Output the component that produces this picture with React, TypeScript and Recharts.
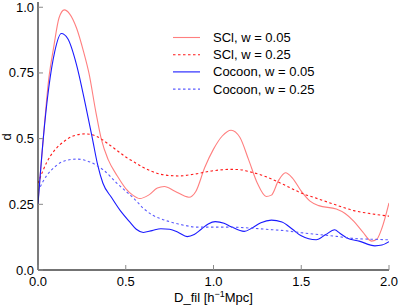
import React from 'react';
import { LineChart, Line, XAxis, YAxis } from 'recharts';

const FONT = '"Liberation Sans", Arial, Helvetica, sans-serif';

const xTicks = [0, 0.5, 1.0, 1.5, 2.0];
const yTicks = [0, 0.25, 0.5, 0.75, 1.0];
const xTickLabels = ['0.0', '0.5', '1.0', '1.5', '2.0'];
const yTickLabels = ['0.0', '0.25', '0.5', '0.75', '1.0'];

// SCl, w = 0.05
const sclNarrowX = [0, 0.03, 0.06, 0.09, 0.12, 0.15, 0.18, 0.22, 0.26, 0.29, 0.33, 0.36, 0.4, 0.45, 0.5, 0.54, 0.58, 0.63, 0.68, 0.72, 0.78, 0.86, 0.9, 0.95, 1.0, 1.05, 1.1, 1.15, 1.2, 1.25, 1.3, 1.33, 1.37, 1.41, 1.45, 1.5, 1.55, 1.6, 1.7, 1.75, 1.8, 1.85, 1.9, 1.93, 1.96, 2.0];
const sclNarrowY = [0.26, 0.5, 0.72, 0.85, 0.96, 0.99, 0.975, 0.92, 0.83, 0.75, 0.6, 0.5, 0.42, 0.36, 0.31, 0.285, 0.272, 0.285, 0.312, 0.318, 0.3, 0.277, 0.3, 0.39, 0.46, 0.51, 0.532, 0.505, 0.42, 0.33, 0.28, 0.285, 0.34, 0.37, 0.35, 0.3, 0.262, 0.245, 0.232, 0.215, 0.185, 0.145, 0.11, 0.117, 0.16, 0.255];

// SCl, w = 0.25
const sclWideX = [0, 0.05, 0.1, 0.15, 0.2, 0.27, 0.33, 0.4, 0.45, 0.5, 0.55, 0.6, 0.65, 0.7, 0.8, 0.9, 1.0, 1.1, 1.15, 1.2, 1.3, 1.4, 1.5, 1.6, 1.7, 1.8, 1.9, 2.0];
const sclWideY = [0.33, 0.41, 0.46, 0.49, 0.51, 0.518, 0.51, 0.48, 0.455, 0.43, 0.41, 0.39, 0.375, 0.364, 0.358, 0.366, 0.378, 0.383, 0.382, 0.375, 0.355, 0.325, 0.293, 0.27, 0.247, 0.226, 0.214, 0.205];

// Cocoon, w = 0.05
const cocNarrowX = [0, 0.03, 0.095, 0.133, 0.17, 0.22, 0.27, 0.31, 0.34, 0.37, 0.42, 0.47, 0.52, 0.56, 0.6, 0.65, 0.7, 0.75, 0.8, 0.85, 0.89, 0.93, 0.97, 1.01, 1.06, 1.1, 1.175, 1.22, 1.27, 1.33, 1.39, 1.45, 1.5, 1.585, 1.64, 1.69, 1.72, 1.76, 1.83, 1.92, 1.96, 2.0];
const cocNarrowY = [0.25, 0.5, 0.83, 0.9, 0.88, 0.78, 0.63, 0.5, 0.4, 0.33, 0.275, 0.225, 0.185, 0.155, 0.143, 0.15, 0.157, 0.155, 0.143, 0.127, 0.135, 0.155, 0.175, 0.184, 0.178, 0.165, 0.147, 0.16, 0.18, 0.19, 0.183, 0.155, 0.13, 0.115, 0.135, 0.153, 0.14, 0.122, 0.11, 0.092, 0.095, 0.108];

// Cocoon, w = 0.25
const cocWideX = [0, 0.05, 0.1, 0.15, 0.22, 0.3, 0.37, 0.45, 0.5, 0.55, 0.6, 0.65, 0.7, 0.8, 0.85, 0.9, 1.0, 1.1, 1.2, 1.3, 1.4, 1.5, 1.6, 1.7, 1.8, 1.9, 2.0];
const cocWideY = [0.3, 0.36, 0.395, 0.415, 0.422, 0.41, 0.382, 0.33, 0.3, 0.27, 0.235, 0.21, 0.195, 0.175, 0.168, 0.163, 0.163, 0.163, 0.16, 0.155, 0.15, 0.142, 0.135, 0.128, 0.12, 0.117, 0.115];

const seriesNames = ['SCl, w = 0.05', 'SCl, w = 0.25', 'Cocoon, w = 0.05', 'Cocoon, w = 0.25'];

const toPoints = (xs: number[], ys: number[]) => xs.map((x, i) => ({ x, y: ys[i] }));

const series = [
  { name: seriesNames[0], data: toPoints(sclNarrowX, sclNarrowY), color: '#ff7f7f', dash: undefined },
  { name: seriesNames[1], data: toPoints(sclWideX, sclWideY), color: '#ff1a1a', dash: '2.5 2.5' },
  { name: seriesNames[2], data: toPoints(cocNarrowX, cocNarrowY), color: '#1a1aff', dash: undefined },
  { name: seriesNames[3], data: toPoints(cocWideX, cocWideY), color: '#5c5cff', dash: '2.5 2.5' },
];

const TICK = '#8a8a8a';

function LeftTick({ x, y, index }: any) {
  return (
    <g>
      <line x1={x} x2={x + 5} y1={y} y2={y} stroke={TICK} />
      <text x={x - 4} y={y + 4.5} textAnchor="end" fontSize={13} fontFamily={FONT} fill="#000">{yTickLabels[index]}</text>
    </g>
  );
}

function BottomTick({ x, y, index }: any) {
  return (
    <g>
      <line x1={x} x2={x} y1={y} y2={y - 5} stroke={TICK} />
      <text x={x} y={y + 16} textAnchor="middle" fontSize={13} fontFamily={FONT} fill="#000">{xTickLabels[index]}</text>
    </g>
  );
}

function TopTick({ x, y }: any) {
  return <line x1={x} x2={x} y1={y} y2={y + 5} stroke={TICK} />;
}

function RightTick({ x, y }: any) {
  return <line x1={x} x2={x - 5} y1={y} y2={y} stroke={TICK} />;
}

export default function App() {
  return (
    <div style={{ position: 'absolute', left: 0, top: 0, width: 399, height: 307, background: '#fff' }}>
      <LineChart width={399} height={307} margin={{ top: 2, right: 10, bottom: 0, left: 0 }}>
        <XAxis xAxisId="b" dataKey="x" type="number" domain={[0, 2]} ticks={xTicks} interval={0}
          height={37} tickSize={0} tickMargin={0} tick={<BottomTick />} axisLine={{ stroke: '#444', strokeWidth: 1.3 }} allowDataOverflow />
        <XAxis xAxisId="t" orientation="top" dataKey="x" type="number" domain={[0, 2]} ticks={xTicks} interval={0}
          height={0} tickSize={0} tickMargin={0} tick={<TopTick />} axisLine={{ stroke: '#777' }} />
        <YAxis yAxisId="l" type="number" domain={[0, 1.02]} ticks={yTicks} interval={0}
          width={38} tickSize={0} tickMargin={0} tick={<LeftTick />} axisLine={{ stroke: '#333', strokeWidth: 1.3 }} allowDataOverflow />
        <YAxis yAxisId="r" orientation="right" type="number" domain={[0, 1.02]} ticks={yTicks} interval={0}
          width={0} tickSize={0} tickMargin={0} tick={<RightTick />} axisLine={{ stroke: '#777' }} />
        {series.map((s) => (
          <Line key={s.name} xAxisId="b" yAxisId="l" data={s.data} dataKey="y" type="monotone"
            stroke={s.color} strokeWidth={1.1} strokeDasharray={s.dash} dot={false} activeDot={false} isAnimationActive={false} />
        ))}
      </LineChart>
      <svg width={399} height={307} style={{ position: 'absolute', left: 0, top: 0, pointerEvents: 'none' }}>
        {series.map((s, i) => (
          <g key={s.name}>
            <line x1={173} x2={200} y1={37.5 + 17.2 * i} y2={37.5 + 17.2 * i} stroke={s.color} strokeWidth={1.1} strokeDasharray={s.dash} />
            <text x={213} y={42 + 17.2 * i} fontSize={13} fontFamily={FONT} fill="#000">{s.name}</text>
          </g>
        ))}
        <text x={0} y={0} transform="translate(11,137) rotate(-90)" textAnchor="middle" fontSize={13} fontFamily={FONT} fill="#000">d</text>
        <text x={213.5} y={302} textAnchor="middle" fontSize={13} fontFamily={FONT} fill="#000">
          D_fil [h<tspan fontSize={9} dy={-5}>−1</tspan><tspan dy={5}>Mpc]</tspan>
        </text>
      </svg>
    </div>
  );
}
